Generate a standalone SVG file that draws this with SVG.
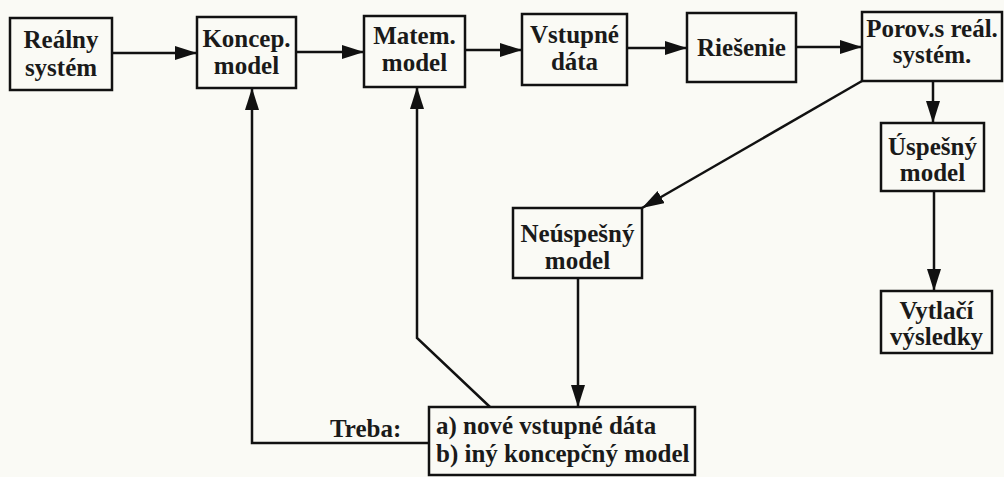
<svg xmlns="http://www.w3.org/2000/svg" width="1004" height="477" viewBox="0 0 1004 477">
<defs>
<style>
.box{fill:none;stroke:#111;stroke-width:2.5}
.ln{fill:none;stroke:#111;stroke-width:2.5}
text{font-family:"Liberation Serif","Times New Roman",serif;font-weight:bold;font-size:25px;fill:#1a1a1a}
.c{text-anchor:middle}
</style>
<marker id="ah" markerUnits="userSpaceOnUse" markerWidth="24" markerHeight="16" refX="22" refY="7" orient="auto">
<path d="M0,0 L22,7 L0,14 z" fill="#111"/>
</marker>
</defs>
<rect width="1004" height="477" fill="#fafaf5"/>
<g id="connectors">
<line class="ln" x1="112" y1="53" x2="197" y2="53" marker-end="url(#ah)"/>
<line class="ln" x1="296" y1="52" x2="364" y2="52" marker-end="url(#ah)"/>
<line class="ln" x1="465" y1="50" x2="522" y2="50" marker-end="url(#ah)"/>
<line class="ln" x1="627" y1="48" x2="687" y2="48" marker-end="url(#ah)"/>
<line class="ln" x1="796" y1="47" x2="862" y2="47" marker-end="url(#ah)"/>
<line class="ln" x1="933" y1="81" x2="933" y2="123" marker-end="url(#ah)"/>
<line class="ln" x1="934" y1="191" x2="934" y2="291" marker-end="url(#ah)"/>
<line class="ln" x1="862" y1="81" x2="642" y2="208" marker-end="url(#ah)"/>
<line class="ln" x1="578" y1="278" x2="578" y2="407" marker-end="url(#ah)"/>
<polyline class="ln" points="490,407 417,338 417,87" marker-end="url(#ah)"/>
<polyline class="ln" points="429,443 252,443 252,88" marker-end="url(#ah)"/>
<text x="330" y="437">Treba:</text>
</g>
<g id="n1"><rect class="box" x="10" y="18" width="102" height="72"/><text class="c" x="61" y="48">Reálny</text><text class="c" x="61" y="76">systém</text></g>
<g id="n2"><rect class="box" x="197" y="17" width="99" height="71"/><text class="c" x="246.5" y="47">Koncep.</text><text class="c" x="246.5" y="74">model</text></g>
<g id="n3"><rect class="box" x="364" y="16" width="101" height="71"/><text class="c" x="414.5" y="44">Matem.</text><text class="c" x="414.5" y="71">model</text></g>
<g id="n4"><rect class="box" x="522" y="14" width="105" height="71"/><text class="c" x="574.5" y="43">Vstupné</text><text class="c" x="574.5" y="70">dáta</text></g>
<g id="n5"><rect class="box" x="687" y="13" width="109" height="69"/><text class="c" x="741.5" y="56">Riešenie</text></g>
<g id="n6"><rect class="box" x="862" y="12" width="140" height="69"/><text class="c" x="932" y="37">Porov.s reál.</text><text class="c" x="932" y="63">systém.</text></g>
<g id="n7"><rect class="box" x="881" y="123" width="103" height="68"/><text class="c" x="932.5" y="155">Úspešný</text><text class="c" x="932.5" y="181">model</text></g>
<g id="n8"><rect class="box" x="881" y="291" width="111" height="62"/><text class="c" x="936.5" y="319">Vytlačí</text><text class="c" x="936.5" y="345">výsledky</text></g>
<g id="n9"><rect class="box" x="513" y="208" width="129" height="70"/><text class="c" x="577.5" y="242">Neúspešný</text><text class="c" x="577.5" y="269">model</text></g>
<g id="n10"><rect class="box" x="429" y="407" width="266" height="68"/><text x="436" y="434">a) nové vstupné dáta</text><text x="436" y="462">b) iný koncepčný model</text></g>
</svg>
